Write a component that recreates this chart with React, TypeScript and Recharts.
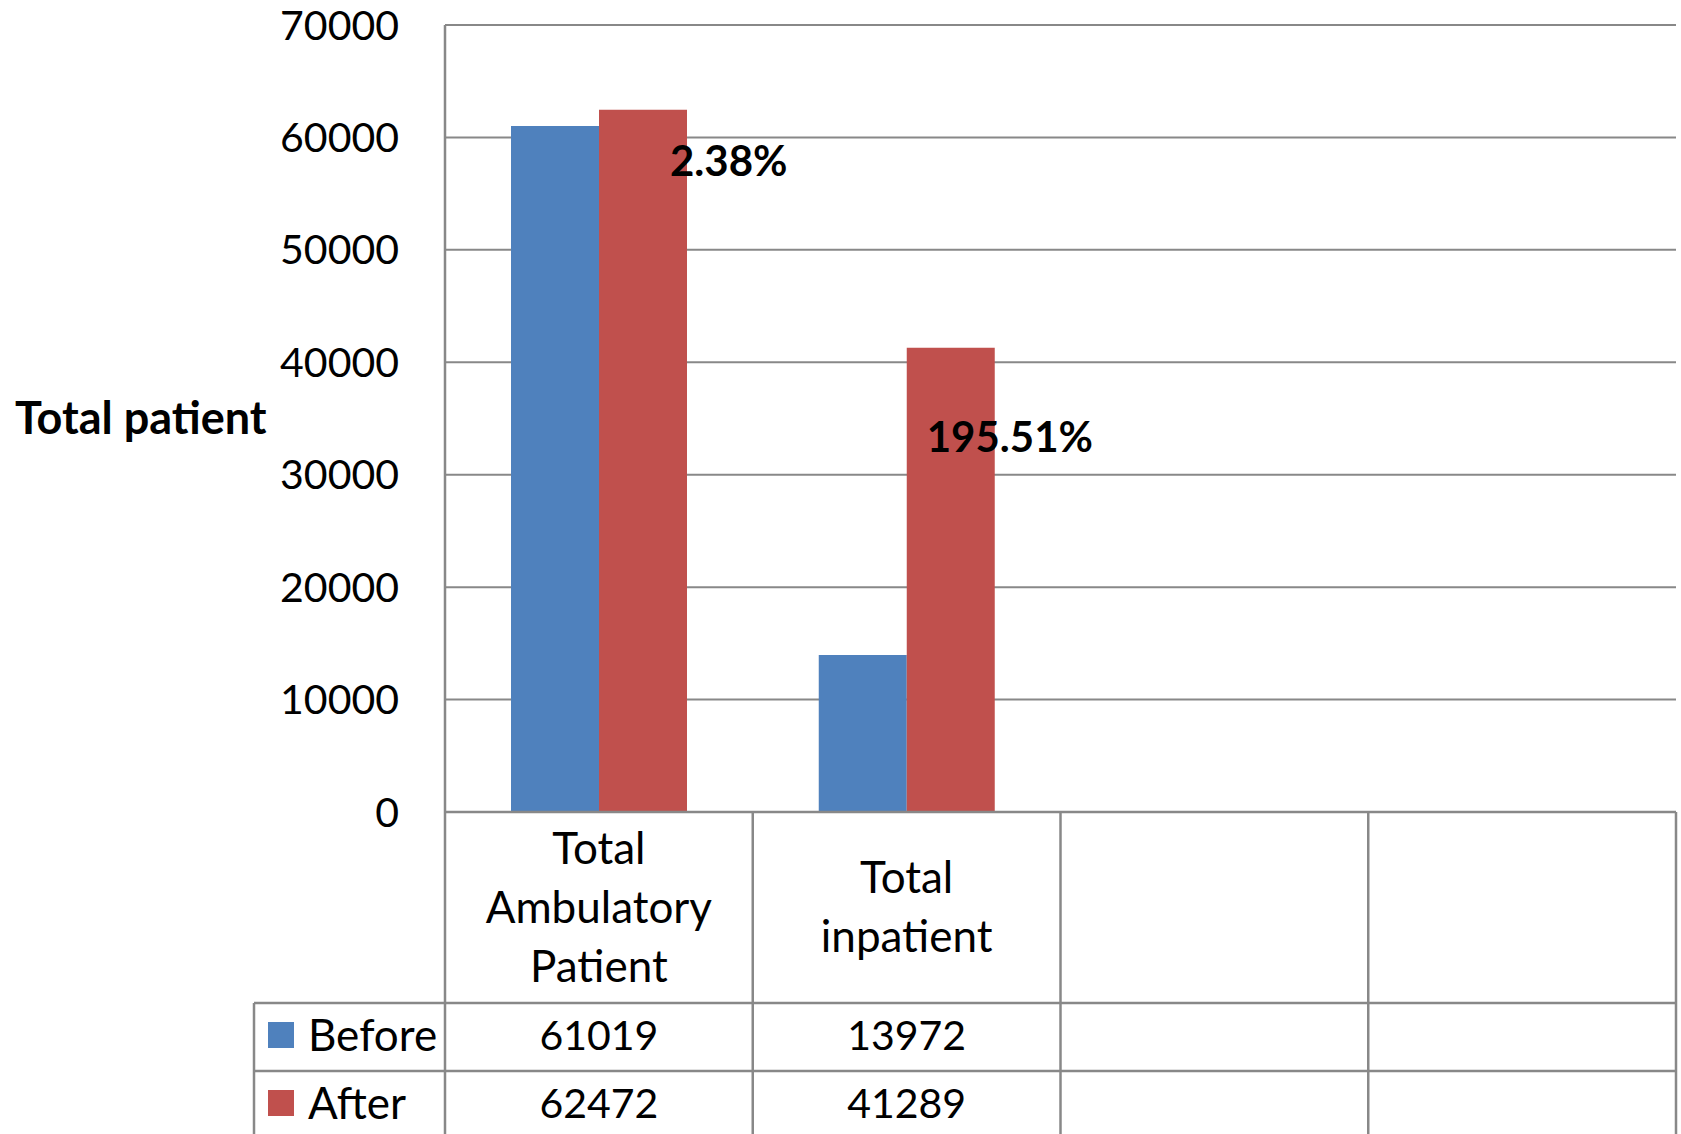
import { Bar, BarChart, CartesianGrid, LabelList, XAxis, YAxis } from "recharts";

const CATEGORIES = ["Total Ambulatory Patient", "Total inpatient", "", ""];
const BEFORE = [61019, 13972, null, null];
const AFTER = [62472, 41289, null, null];
const CHANGE_LABELS = ["2.38%", "195.51%", "", ""];
const Y_TICKS = [0, 10000, 20000, 30000, 40000, 50000, 60000, 70000];

const SERIES = [
  { key: "before", name: "Before", color: "#4F81BD", values: BEFORE },
  { key: "after", name: "After", color: "#C0504D", values: AFTER },
];

const data = CATEGORIES.map((name, i) => ({
  name,
  before: BEFORE[i],
  after: AFTER[i],
  change: CHANGE_LABELS[i],
}));

// layout
const WIDTH = 1681;
const HEIGHT = 1134;
const PLOT_LEFT = 445;
const PLOT_RIGHT = 1676;
const LEGEND_LEFT = 254;
const COL_W = (PLOT_RIGHT - PLOT_LEFT) / CATEGORIES.length;
const HEADER_H = 191;
const ROW_H = 68;
const LINE_H = 59;
const GRID = "#888888";
const NUM_SIZE = 41; // digits
const WORD_SIZE = 44; // words look a bit wider than the digits in the original

// hand-placed offsets of the percent labels, relative to the "After" bar's top-left corner
const LABEL_NUDGE = [
  { dx: 71, dy: 50 },
  { dx: 20, dy: 88 },
];

function TableColumn(props: any) {
  const { x, y, index } = props;
  const left = x - COL_W / 2;
  const right = x + COL_W / 2;
  const name = CATEGORIES[index];
  const lines = name ? name.split(" ") : [];
  const firstLine = y + HEADER_H / 2 - ((lines.length - 1) * LINE_H) / 2 - 2;
  const rowTop = y + HEADER_H;

  return (
    <g>
      {index === 0 && (
        <g>
          <line x1={left} y1={y} x2={left} y2={HEIGHT} stroke={GRID} strokeWidth={2.5} />
          <line x1={LEGEND_LEFT} y1={rowTop} x2={LEGEND_LEFT} y2={HEIGHT} stroke={GRID} strokeWidth={2.5} />
          {SERIES.map((s, r) => (
            <g key={s.key}>
              <line
                x1={LEGEND_LEFT}
                y1={rowTop + r * ROW_H}
                x2={PLOT_RIGHT}
                y2={rowTop + r * ROW_H}
                stroke={GRID}
                strokeWidth={2.5}
              />
              <rect x={268} y={rowTop + r * ROW_H + ROW_H / 2 - 15} width={26} height={26} fill={s.color} />
              <text
                x={308}
                y={rowTop + r * ROW_H + ROW_H / 2 - 3}
                dominantBaseline="central"
                fontSize={WORD_SIZE}
                fill="#000"
              >
                {s.name}
              </text>
            </g>
          ))}
        </g>
      )}
      <line x1={right} y1={y} x2={right} y2={HEIGHT} stroke={GRID} strokeWidth={2.5} />
      {lines.map((line, k) => (
        <text
          key={k}
          x={x}
          y={firstLine + k * LINE_H}
          textAnchor="middle"
          dominantBaseline="central"
          fontSize={WORD_SIZE}
          fill="#000"
        >
          {line}
        </text>
      ))}
      {SERIES.map((s, r) =>
        s.values[index] == null ? null : (
          <text
            key={s.key}
            x={x}
            y={rowTop + r * ROW_H + ROW_H / 2 - 3}
            textAnchor="middle"
            dominantBaseline="central"
            fontSize={NUM_SIZE}
            fill="#000"
          >
            {s.values[index]}
          </text>
        )
      )}
    </g>
  );
}

function ChangeLabel(props: any) {
  const { x, y, index, value } = props;
  const nudge = LABEL_NUDGE[index];
  if (!value || !nudge) return null;
  return (
    <text
      x={x + nudge.dx}
      y={y + nudge.dy}
      dominantBaseline="central"
      fontSize={NUM_SIZE + 1}
      fontWeight="bold"
      fill="#000"
    >
      {value}
    </text>
  );
}

export default function App() {
  return (
    <div style={{ position: "absolute", left: 0, top: 0, fontFamily: "Lato, sans-serif", background: "#fff" }}>
      <BarChart
        width={WIDTH}
        height={HEIGHT}
        data={data}
        margin={{ top: 25, right: WIDTH - PLOT_RIGHT, bottom: 0, left: 0 }}
        barGap={0}
      >
        <CartesianGrid vertical={false} stroke={GRID} strokeWidth={2} />
        <XAxis
          dataKey="name"
          interval={0}
          height={HEIGHT - 812}
          tickSize={0}
          tickMargin={0}
          tickLine={false}
          axisLine={{ stroke: GRID, strokeWidth: 2.5 }}
          tick={<TableColumn />}
        />
        <YAxis
          width={PLOT_LEFT}
          domain={[0, 70000]}
          ticks={Y_TICKS}
          interval={0}
          tickLine={false}
          tickMargin={40}
          axisLine={{ stroke: GRID, strokeWidth: 2.5 }}
          tick={{ fill: "#000", fontSize: NUM_SIZE }}
          label={{
            value: "Total patient",
            position: "insideLeft",
            offset: 15,
            fill: "#000",
            fontSize: WORD_SIZE + 1,
            fontWeight: "bold",
          }}
        />
        <Bar dataKey="before" name="Before" fill="#4F81BD" barSize={88} isAnimationActive={false} />
        <Bar dataKey="after" name="After" fill="#C0504D" barSize={88} isAnimationActive={false}>
          <LabelList dataKey="change" content={<ChangeLabel />} />
        </Bar>
      </BarChart>
    </div>
  );
}
